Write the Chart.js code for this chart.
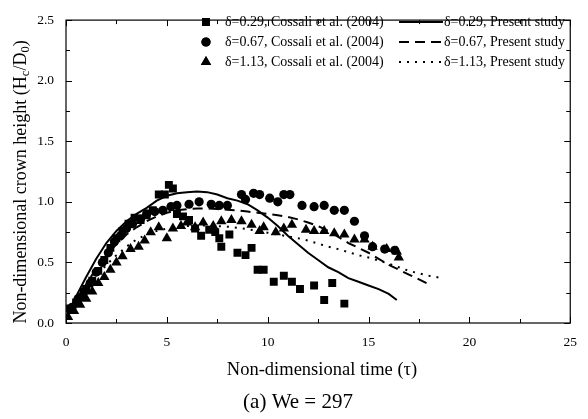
<!DOCTYPE html>
<html>
<head>
<meta charset="utf-8">
<script src="https://cdn.jsdelivr.net/npm/chart.js@4.4.1/dist/chart.umd.min.js"></script>
<style>
  html, body { margin: 0; padding: 0; background: #fff; }
  #wrap { width: 588px; height: 419px; }
</style>
</head>
<body>
<div id="wrap"><canvas id="chart" width="588" height="419"></canvas></div>
<script>
// experimental data (Cossali et al. 2004), tau and Hc/D0
const sqX = [0.2, 0.5, 0.8, 1.0, 1.3, 1.6, 1.9, 2.2, 2.5, 2.8, 3.1, 3.4, 3.7, 4.0, 4.3, 4.6, 4.9, 5.1, 5.3, 5.5, 5.8, 6.1, 6.4, 6.7, 7.1, 7.4, 7.6, 7.7, 8.1, 8.5, 8.9, 9.2, 9.5, 9.8, 10.3, 10.8, 11.2, 11.6, 12.3, 12.8, 13.2, 13.8];
const sqY = [0.12, 0.17, 0.22, 0.28, 0.35, 0.43, 0.52, 0.62, 0.70, 0.76, 0.82, 0.87, 0.85, 0.89, 0.93, 1.06, 1.06, 1.14, 1.11, 0.90, 0.88, 0.85, 0.78, 0.72, 0.77, 0.75, 0.70, 0.63, 0.73, 0.58, 0.56, 0.62, 0.44, 0.44, 0.34, 0.39, 0.34, 0.28, 0.31, 0.19, 0.33, 0.16];

const ciX = [0.3, 0.6, 0.9, 1.2, 1.5, 1.8, 2.1, 2.4, 2.7, 3.0, 3.3, 3.7, 4.0, 4.4, 4.8, 5.2, 5.5, 6.1, 6.6, 7.2, 7.6, 8.0, 8.7, 8.9, 9.3, 9.6, 10.1, 10.5, 10.8, 11.1, 11.7, 12.3, 12.8, 13.3, 13.8, 14.3, 14.8, 15.2, 15.8, 16.3];
const ciY = [0.13, 0.20, 0.26, 0.33, 0.42, 0.50, 0.58, 0.67, 0.72, 0.78, 0.82, 0.86, 0.90, 0.92, 0.93, 0.96, 0.97, 0.98, 1.00, 0.98, 0.97, 0.97, 1.06, 1.02, 1.07, 1.06, 1.03, 1.00, 1.06, 1.06, 0.97, 0.96, 0.97, 0.93, 0.93, 0.84, 0.72, 0.63, 0.61, 0.60];

const trX = [0.1, 0.4, 0.7, 1.0, 1.3, 1.6, 1.9, 2.2, 2.5, 2.8, 3.2, 3.6, 3.9, 4.2, 4.6, 5.0, 5.3, 5.7, 6.0, 6.4, 6.8, 7.3, 7.7, 8.2, 8.7, 9.2, 9.6, 9.8, 10.4, 10.8, 11.2, 11.9, 12.3, 12.8, 13.3, 13.8, 14.3, 14.8, 15.2, 15.9, 16.4, 16.5];
const trY = [0.05, 0.10, 0.15, 0.20, 0.26, 0.33, 0.38, 0.44, 0.50, 0.55, 0.61, 0.63, 0.68, 0.75, 0.79, 0.70, 0.78, 0.80, 0.83, 0.79, 0.83, 0.80, 0.84, 0.85, 0.84, 0.81, 0.76, 0.79, 0.75, 0.78, 0.81, 0.77, 0.76, 0.76, 0.74, 0.73, 0.69, 0.69, 0.63, 0.61, 0.59, 0.54];

// present study curves
const solidX = [0, 0.5, 1, 1.5, 2, 2.5, 3, 3.5, 4, 4.5, 5, 5.5, 6, 6.5, 7, 7.5, 8, 8.5, 9, 9.5, 10, 10.5, 11, 11.5, 12, 12.5, 13, 13.5, 14, 14.5, 15, 15.5, 16, 16.4];
const solidY = [0.05, 0.22, 0.38, 0.53, 0.66, 0.76, 0.84, 0.90, 0.95, 1.01, 1.05, 1.07, 1.08, 1.085, 1.08, 1.06, 1.03, 1.01, 0.98, 0.93, 0.87, 0.80, 0.72, 0.65, 0.58, 0.52, 0.46, 0.42, 0.37, 0.34, 0.31, 0.28, 0.24, 0.19];

const dashX = [0, 0.5, 1, 1.5, 2, 2.5, 3, 3.5, 4, 4.5, 5, 5.5, 6, 6.5, 7, 7.5, 8, 8.5, 9, 9.5, 10, 10.5, 11, 11.5, 12, 12.5, 13, 13.5, 14, 14.5, 15, 15.5, 16, 16.5, 17, 17.5, 18.1];
const dashY = [0.04, 0.18, 0.32, 0.45, 0.56, 0.65, 0.73, 0.79, 0.84, 0.88, 0.91, 0.93, 0.94, 0.945, 0.945, 0.94, 0.935, 0.93, 0.92, 0.91, 0.90, 0.89, 0.875, 0.855, 0.83, 0.80, 0.76, 0.71, 0.66, 0.62, 0.58, 0.53, 0.48, 0.44, 0.40, 0.36, 0.31];

const dotX = [0, 0.5, 1, 1.5, 2, 2.5, 3, 3.5, 4, 4.5, 5, 5.5, 6, 6.5, 7, 7.5, 8, 8.5, 9, 9.5, 10, 10.5, 11, 11.5, 12, 12.5, 13, 13.5, 14, 14.5, 15, 15.5, 16, 16.5, 17, 17.5, 18, 18.5];
const dotY = [0.03, 0.15, 0.27, 0.38, 0.48, 0.56, 0.63, 0.69, 0.73, 0.76, 0.78, 0.795, 0.80, 0.805, 0.805, 0.80, 0.795, 0.785, 0.775, 0.76, 0.745, 0.73, 0.715, 0.70, 0.68, 0.655, 0.63, 0.61, 0.585, 0.56, 0.54, 0.515, 0.49, 0.46, 0.43, 0.41, 0.39, 0.375];

const xTicks = [0, 5, 10, 15, 20, 25];
const yTicks = [0, 0.5, 1.0, 1.5, 2.0, 2.5];

const SERIF = "'Liberation Serif', 'DejaVu Serif', serif";

const pts = (xs, ys) => xs.map((x, i) => ({ x: x, y: ys[i] }));

const datasets = [
  { label: "δ=0.29, Cossali et al. (2004)", data: pts(sqX, sqY), pointStyle: "rect", pointRadius: 5.6,
    backgroundColor: "#000", borderColor: "#000", borderWidth: 0, showLine: false, legendKind: "marker" },
  { label: "δ=0.29, Present study", data: pts(solidX, solidY), showLine: true, pointRadius: 0,
    borderColor: "#000", borderWidth: 2, borderDash: [], legendKind: "line" },
  { label: "δ=0.67, Cossali et al. (2004)", data: pts(ciX, ciY), pointStyle: "circle", pointRadius: 4.6,
    backgroundColor: "#000", borderColor: "#000", borderWidth: 0, showLine: false, legendKind: "marker" },
  { label: "δ=0.67, Present study", data: pts(dashX, dashY), showLine: true, pointRadius: 0,
    borderColor: "#000", borderWidth: 2, borderDash: [10, 6], legendKind: "line" },
  { label: "δ=1.13, Cossali et al. (2004)", data: pts(trX, trY), pointStyle: "triangle", pointRadius: 6,
    backgroundColor: "#000", borderColor: "#000", borderWidth: 0, showLine: false, legendKind: "marker" },
  { label: "δ=1.13, Present study", data: pts(dotX, dotY), showLine: true, pointRadius: 0,
    borderColor: "#000", borderWidth: 2, borderDash: [2, 6], legendKind: "line" },
];

// frame, inward ticks on all four sides, titles and legend
const decor = {
  id: "decor",
  afterDraw(chart) {
    const { ctx, chartArea: a, scales } = chart;
    const xs = scales.x, ys = scales.y;
    ctx.save();
    ctx.strokeStyle = "#000";
    ctx.lineWidth = 1.2;
    ctx.strokeRect(a.left, a.top, a.right - a.left, a.bottom - a.top);

    ctx.lineWidth = 1;
    ctx.beginPath();
    for (let v = 0; v <= 25.001; v += 2.5) {
      const px = Math.round(xs.getPixelForValue(v)) + 0.5;
      const len = Math.abs(v % 5) < 1e-6 ? 6 : 4;
      ctx.moveTo(px, a.bottom); ctx.lineTo(px, a.bottom - len);
      ctx.moveTo(px, a.top); ctx.lineTo(px, a.top + len);
    }
    for (let v = 0; v <= 2.5001; v += 0.25) {
      const py = Math.round(ys.getPixelForValue(v)) + 0.5;
      const len = Math.abs((v * 2) % 1) < 1e-6 ? 6 : 4;
      ctx.moveTo(a.left, py); ctx.lineTo(a.left + len, py);
      ctx.moveTo(a.right, py); ctx.lineTo(a.right - len, py);
    }
    ctx.stroke();

    ctx.fillStyle = "#000";
    ctx.textBaseline = "middle";

    // x title and caption
    ctx.textAlign = "center";
    ctx.font = "18.5px " + SERIF;
    ctx.fillText("Non-dimensional time (τ)", 322, 370);
    ctx.font = "21px " + SERIF;
    ctx.fillText("(a) We = 297", 298, 402);

    // y title with subscripts
    ctx.save();
    ctx.translate(21, 182);
    ctx.rotate(-Math.PI / 2);
    const parts = [
      ["Non-dimensional crown height (H", 18, 0],
      ["c", 12.5, 4.5],
      ["/D", 18, 0],
      ["0", 12.5, 4.5],
      [")", 18, 0],
    ];
    let total = 0;
    parts.forEach(p => { ctx.font = p[1] + "px " + SERIF; total += ctx.measureText(p[0]).width; });
    let cx = -total / 2;
    ctx.textAlign = "left";
    parts.forEach(p => {
      ctx.font = p[1] + "px " + SERIF;
      ctx.fillText(p[0], cx, p[2]);
      cx += ctx.measureText(p[0]).width;
    });
    ctx.restore();

    // legend: two columns inside the plot, top right
    ctx.font = "14px " + SERIF;
    ctx.textAlign = "left";
    const rows = [22, 42, 62];
    chart.data.datasets.forEach((ds, i) => {
      const row = rows[Math.floor(i / 2)];
      if (ds.legendKind === "marker") {
        ctx.fillStyle = "#000";
        Chart.helpers.drawPoint(ctx, { pointStyle: ds.pointStyle, radius: ds.pointRadius, borderWidth: 0 }, 206, row);
        ctx.fill();
        ctx.fillText(ds.label, 225, row);
      } else {
        ctx.save();
        ctx.lineWidth = ds.borderWidth;
        ctx.setLineDash(ds.borderDash);
        ctx.beginPath();
        ctx.moveTo(399, row); ctx.lineTo(443, row);
        ctx.stroke();
        ctx.restore();
        ctx.fillText(ds.label, 444, row);
      }
    });
    ctx.restore();
  }
};

new Chart(document.getElementById("chart").getContext("2d"), {
  type: "scatter",
  data: { datasets: datasets },
  options: {
    responsive: false,
    animation: false,
    layout: { padding: { left: 0, top: 15, right: 7, bottom: 0 } },
    plugins: { legend: { display: false }, tooltip: { enabled: false } },
    scales: {
      x: {
        type: "linear", min: 0, max: 25,
        afterBuildTicks: s => { s.ticks = xTicks.map(v => ({ value: v })); },
        afterFit: s => { s.height = 96; },
        grid: { display: false, drawTicks: false }, border: { display: false },
        ticks: { color: "#000", padding: 11, font: { family: SERIF, size: 13.5 }, callback: v => String(v) },
      },
      y: {
        type: "linear", min: 0, max: 2.5,
        afterBuildTicks: s => { s.ticks = yTicks.map(v => ({ value: v })); },
        afterFit: s => { s.width = 66; },
        grid: { display: false, drawTicks: false }, border: { display: false },
        ticks: { color: "#000", padding: 12, font: { family: SERIF, size: 13.5 }, callback: v => v.toFixed(1) },
      },
    },
  },
  plugins: [decor],
});
</script>
</body>
</html>
